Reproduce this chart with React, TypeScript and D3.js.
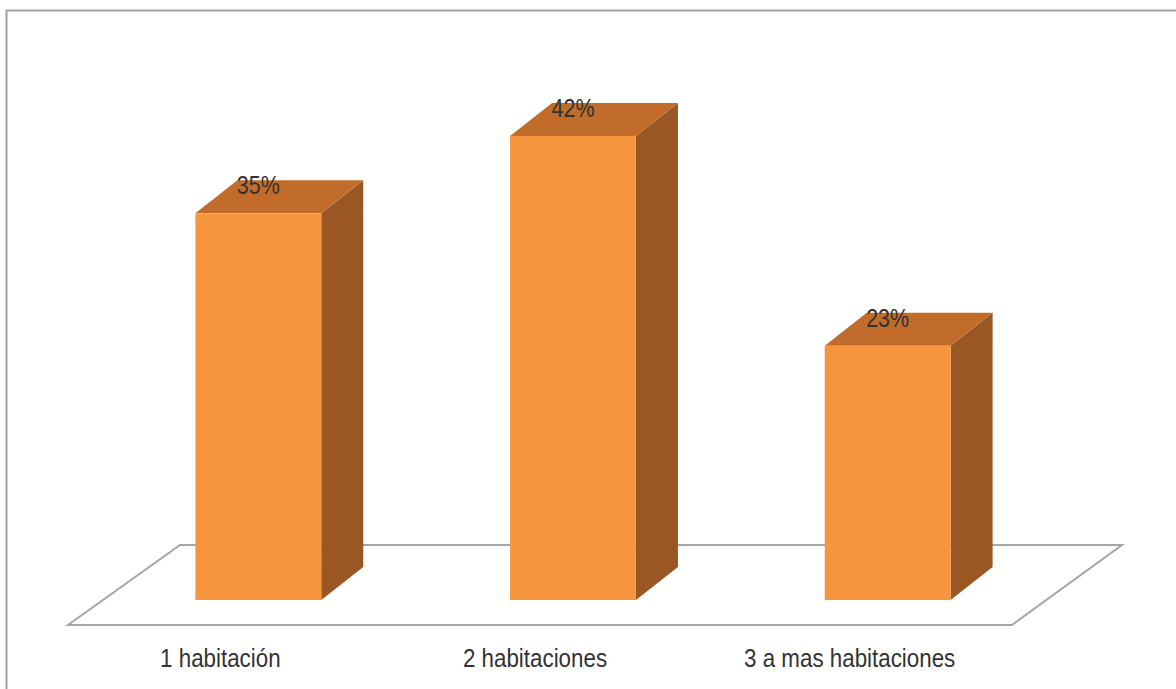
import React from 'react';
import * as d3 from 'd3';

const categories = ['1 habitación', '2 habitaciones', '3 a mas habitaciones'];
const values = [35, 42, 23];
const valueLabels = ['35%', '42%', '23%'];

const W = 1176;
const H = 689;

// floor (3D base plane)
const floorFrontY = 625;
const floorDx = 110;
const floorDy = 80;
// bar depth
const barDx = 42;
const barDy = 33;
// how far back the bars stand on the floor
const inset = 25;
const font = "'Liberation Sans', Arial, sans-serif";

const App = () => {
    const x = d3.scaleBand<string>()
        .domain(categories)
        .range([68, 1012])
        .paddingInner(0.6)
        .paddingOuter(0.3);

    const baseY = floorFrontY - inset;
    const shiftX = 33;

    const y = d3.scaleLinear().domain([0, 45]).range([baseY, baseY - 45 * 11.05]);

    const floorPath = d3.path();
    floorPath.moveTo(68, floorFrontY);
    floorPath.lineTo(1012, floorFrontY);
    floorPath.lineTo(1012 + floorDx, floorFrontY - floorDy);
    floorPath.lineTo(68 + floorDx + 2, floorFrontY - floorDy);
    floorPath.closePath();

    const poly = (pts: number[][]) => 'M' + pts.map(p => p.join(',')).join('L') + 'Z';

    return (
        <svg width={W} height={H} style={{ position: 'absolute', left: 0, top: 0 }}>
            <rect x={0} y={0} width={W} height={H} fill="#ffffff" />
            <path d={`M6.5,${H + 2}V10.5H${W + 2}`} fill="none" stroke="#a0a0a0" strokeWidth={2} />
            <path d={floorPath.toString()} fill="#ffffff" stroke="#a6a6a6" strokeWidth={2} />
            {categories.map((c, i) => {
                const x0 = (x(c) as number) + shiftX;
                const x1 = x0 + x.bandwidth();
                const yt = y(values[i]);
                const yb = y(0);
                return (
                    <g key={c}>
                        <path d={poly([[x1, yt], [x1 + barDx, yt - barDy], [x1 + barDx, yb - barDy], [x1, yb]])} fill="#9a5724" />
                        <path d={poly([[x0, yt], [x0 + barDx, yt - barDy], [x1 + barDx, yt - barDy], [x1, yt]])} fill="#c26c2b" />
                        <rect x={x0} y={yt} width={x.bandwidth()} height={yb - yt} fill="#f7953e" />
                        <text transform={`translate(${(x0 + x1) / 2},${yt - 19}) scale(0.86,1)`} textAnchor="middle"
                            fontFamily={font} fontSize={25} fill="#333333">
                            {valueLabels[i]}
                        </text>
                    </g>
                );
            })}
            {categories.map(c => (
                <text key={c} transform={`translate(${(x(c) as number) + x.bandwidth() / 2 - 5},667) scale(0.86,1)`} textAnchor="middle"
                    fontFamily={font} fontSize={26} fill="#333333">
                    {c}
                </text>
            ))}
        </svg>
    );
};

export default App;
